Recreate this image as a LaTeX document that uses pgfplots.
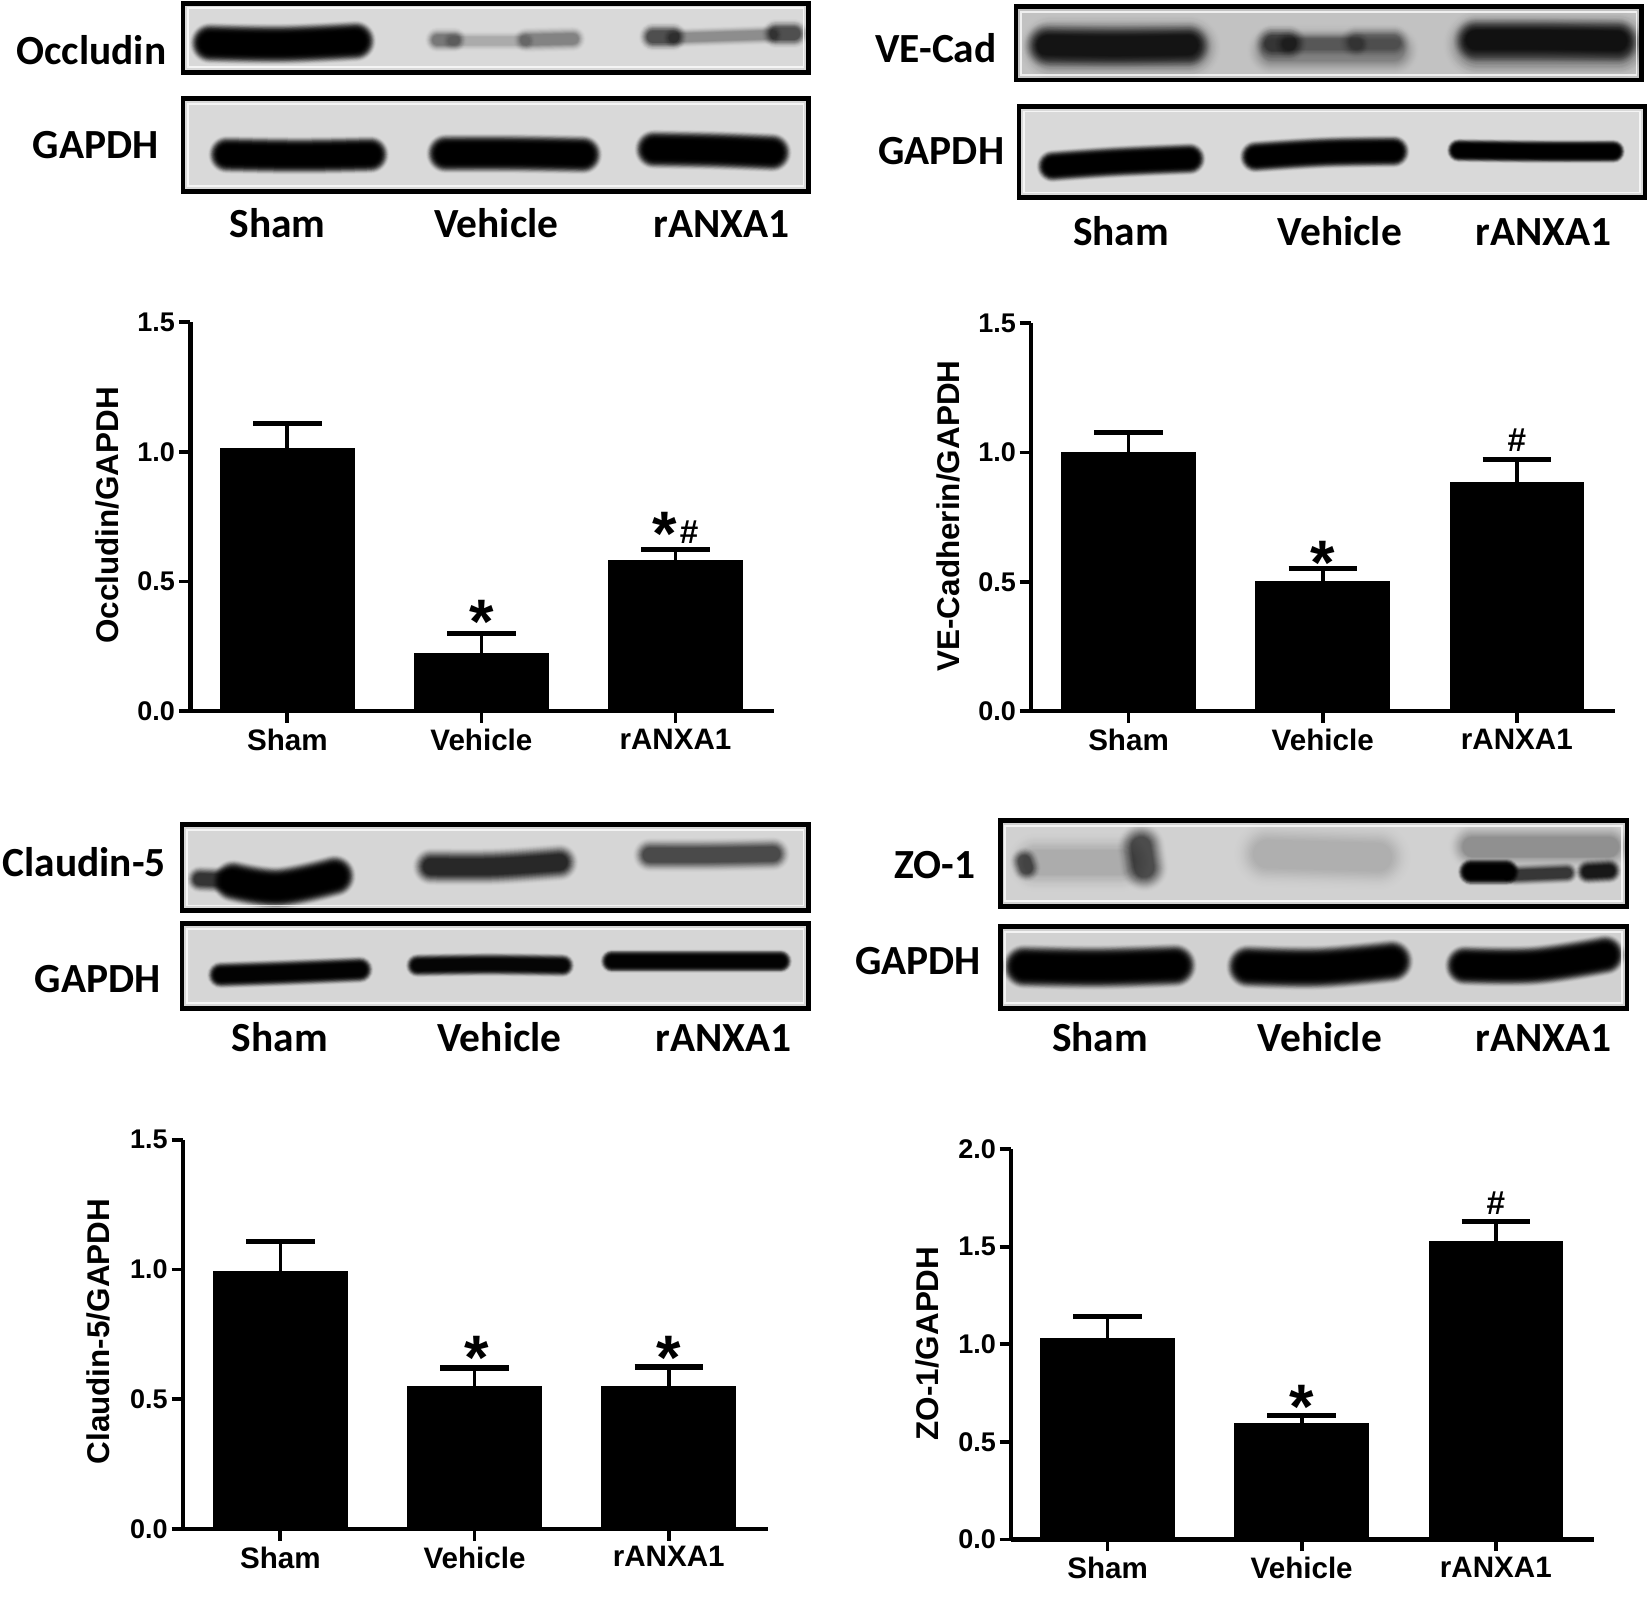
\documentclass[border=0pt]{standalone}
\usepackage{fontspec}
\setmainfont{Liberation Sans}
\newfontfamily\blotfont{Carlito}
\usepackage{pgfplots}
\pgfplotsset{compat=1.18}
\definecolor{bgA}{gray}{0.85}
\definecolor{bgB}{gray}{0.76}
\definecolor{bgC}{gray}{0.84}
\definecolor{bgD}{gray}{0.82}
% #1 x1, #2 y1, #3 x2, #4 y2, #5 background
\newcommand{\blot}[5]{%
  \fill[#5] (#1,#2) rectangle (#3,#4);
}
\newcommand{\blotframe}[4]{%
  \draw[white,opacity=0.75,line width=0.018cm] (#1+5,#2+5) rectangle (#3-5,#4-5);
  \draw[black,line width=0.045cm] (#1,#2) rectangle (#3,#4);
}
% #1 thickness, #2 darkness, #3 points
\newcommand{\band}[3]{%
  \pgfmathsetmacro{\cval}{-ln(1-#2)/136}%
  \foreach \k in {1,...,16}{%
    \pgfmathsetmacro{\aval}{min(0.9,\cval*\k)}%
    \pgfmathsetmacro{\wval}{#1*(1.65-0.065*(\k-1))*0.01}%
    \draw[black,opacity=\aval,line width=\wval cm,line cap=round,line join=round]
      plot[smooth,tension=0.6] coordinates {#3};
  }%
}
\newcommand{\blab}[3]{\node[anchor=base,inner sep=0pt,font=\blotfont\bfseries\fontsize{11.2}{13}\selectfont] at (#1,#2) {#3};}
\pgfplotsset{
  bars/.style={
    scale only axis,
    anchor=south west,
    axis lines=left,
    axis line style={-,line width=0.04cm,black},
    every tick/.style={line width=0.036cm,black},
    tick align=outside,
    major tick length=0.11cm,
    ymin=0,
    xtick={1,2,3},
    xticklabels={Sham,Vehicle,rANXA1},
    clip=false,
    ybar,
    bar width=1.265cm,
    /pgf/number format/assume math mode=true,
    /pgf/number format/fixed,
    /pgf/number format/fixed zerofill,
    /pgf/number format/precision=1,
    yticklabel style={font=\bfseries\fontsize{7.3}{8}\selectfont,inner sep=0pt,xshift=-0.03cm},
    xticklabel style={font=\bfseries\fontsize{8}{9}\selectfont,inner sep=0pt,yshift=-0.05cm},
    every axis y label/.style={rotate=90,anchor=center,font=\bfseries\fontsize{8.5}{10}\selectfont},
  },
  barplot/.style={
    fill=black,draw=black,
    error bars/y dir=plus,
    error bars/y explicit,
    error bars/error bar style={line width=0.035cm,black},
    error bars/error mark options={rotate=90,mark size=0.325cm,line width=0.05cm,black},
  },
}
\newcommand{\stara}[2]{\node[inner sep=0pt,anchor=base,yshift=-7.9pt,font=\bfseries\fontsize{17}{18}\selectfont] at (axis cs:#1,#2) {*};}
\newcommand{\hasha}[2]{\node[inner sep=0pt,anchor=base,yshift=-3.2pt,font=\bfseries\fontsize{9}{10}\selectfont] at (axis cs:#1,#2) {\#};}
\begin{document}
\begin{tikzpicture}
\useasboundingbox (0,0) rectangle (15.68,15.2);
\begin{scope}[x=0.01cm,y=-0.01cm,shift={(0,15.2cm)}]
\begin{scope}
\path[clip] (174,3) rectangle (769,69);
\blot{174}{3}{769}{69}{bgA}
\band{24}{0.99}{(200,41) (270,42) (338,39)}
\band{15}{0.42}{(416,38) (432,38)}
\band{12}{0.18}{(430,39) (500,39)}
\band{15}{0.36}{(500,38) (545,37)}
\band{17}{0.6}{(621,35) (640,35)}
\band{12}{0.32}{(640,36) (735,33)}
\band{17}{0.6}{(738,32) (755,32)}
\end{scope}
\blotframe{174}{3}{769}{69}
\begin{scope}
\path[clip] (174,94) rectangle (769,182);
\blot{174}{94}{769}{182}{bgA}
\band{22}{0.99}{(216,147) (285,148) (352,147)}
\band{23}{0.99}{(424,146) (490,146) (554,147)}
\band{23}{0.99}{(622,142) (680,143) (734,145)}
\end{scope}
\blotframe{174}{94}{769}{182}
\begin{scope}
\path[clip] (966,6) rectangle (1561,76);
\blot{966}{6}{1561}{76}{bgB}
\band{38}{0.45}{(1000,45) (1130,45)}
\band{27}{0.75}{(995,43) (1060,44) (1130,43)}
\band{30}{0.3}{(1210,48) (1325,48)}
\band{22}{0.55}{(1210,41) (1225,41)}
\band{16}{0.28}{(1225,42) (1290,42)}
\band{20}{0.35}{(1290,40) (1325,40)}
\band{40}{0.45}{(1405,42) (1538,42)}
\band{27}{0.78}{(1403,38) (1470,38) (1538,39)}
\end{scope}
\blotframe{966}{6}{1561}{76}
\begin{scope}
\path[clip] (969,101) rectangle (1564,188);
\blot{969}{101}{1564}{188}{bgA}
\band{19}{0.99}{(1001,158) (1060,154) (1131,151)}
\band{19}{0.99}{(1194,149) (1260,145) (1325,144)}
\band{14}{0.99}{(1387,143) (1460,144) (1534,144)}
\end{scope}
\blotframe{969}{101}{1564}{188}
\begin{scope}
\path[clip] (173,784) rectangle (769,866);
\blot{173}{784}{769}{866}{bgC}
\band{16}{0.72}{(190,836) (215,837)}
\band{25}{0.99}{(222,838) (265,844) (318,833)}
\band{22}{0.78}{(410,824) (470,824) (532,820)}
\band{20}{0.62}{(618,813) (675,813) (735,812)}
\end{scope}
\blotframe{173}{784}{769}{866}
\begin{scope}
\path[clip] (173,878) rectangle (769,959);
\blot{173}{878}{769}{959}{bgC}
\band{16}{0.97}{(210,927) (270,925) (342,922)}
\band{14}{0.95}{(397,918) (465,917) (535,918)}
\band{14}{0.97}{(582,914) (660,914) (742,914)}
\end{scope}
\blotframe{173}{878}{769}{959}
\begin{scope}
\path[clip] (951,780) rectangle (1547,862);
\blot{951}{780}{1547}{862}{bgD}
\band{17}{0.55}{(974,819) (976,825)}
\band{28}{0.6}{(1085,805) (1088,825)}
\band{35}{0.15}{(985,820) (1065,820)}
\band{40}{0.14}{(1205,812) (1310,815)}
\band{28}{0.28}{(1400,805) (1530,805)}
\band{16}{0.99}{(1399,829) (1432,829)}
\band{13}{0.7}{(1440,832) (1490,830)}
\band{15}{0.85}{(1510,829) (1530,828)}
\end{scope}
\blotframe{951}{780}{1547}{862}
\begin{scope}
\path[clip] (951,881) rectangle (1547,959);
\blot{951}{881}{1547}{959}{bgD}
\band{26}{0.99}{(974,919) (1045,920) (1117,918)}
\band{26}{0.99}{(1187,919) (1255,920) (1323,914)}
\band{24}{0.99}{(1393,918) (1460,918) (1526,908)}
\end{scope}
\blotframe{951}{881}{1547}{959}
% Labels
\blab{87}{61}{Occludin}
\blab{91}{151}{GAPDH}
\blab{264}{226}{Sham}
\blab{472}{226}{Vehicle}
\blab{686}{226}{rANXA1}
\blab{890}{59}{VE-Cad}
\blab{895}{156}{GAPDH}
\blab{1066}{233}{Sham}
\blab{1274}{233}{Vehicle}
\blab{1468}{233}{rANXA1}
\blab{80}{833}{Claudin-5}
\blab{93}{944}{GAPDH}
\blab{266}{1000}{Sham}
\blab{475}{1000}{Vehicle}
\blab{688}{1000}{rANXA1}
\blab{889}{835}{ZO-1}
\blab{873}{927}{GAPDH}
\blab{1046}{1000}{Sham}
\blab{1255}{1000}{Vehicle}
\blab{1468}{1000}{rANXA1}
\end{scope}
% Chart 1
\begin{axis}[bars,at={(1.81cm,8.44cm)},width=5.55cm,height=3.70cm,xmin=0.501,xmax=3.51,ymax=1.5,ytick={0,0.5,1,1.5},
  ylabel={Occludin/GAPDH},y label style={at={(axis description cs:-0.142,0.503)}}]
\addplot[barplot] coordinates {(1,1.012) +- (0,0.096) (2,0.222) +- (0,0.077) (3,0.579) +- (0,0.044)};
\stara{2}{0.373}
\stara{2.946}{0.713}
\hasha{3.07}{0.693}
\end{axis}
% Chart 2
\begin{axis}[bars,at={(9.80cm,8.44cm)},width=5.55cm,height=3.69cm,xmin=0.499,xmax=3.507,ymax=1.5,ytick={0,0.5,1,1.5},
  ylabel={VE-Cadherin/GAPDH},y label style={at={(axis description cs:-0.141,0.503)}}]
\addplot[barplot] coordinates {(1,1.0) +- (0,0.077) (2,0.5) +- (0,0.053) (3,0.882) +- (0,0.09)};
\stara{2}{0.604}
\hasha{3}{1.05}
\end{axis}
% Chart 3
\begin{axis}[bars,at={(1.74cm,0.67cm)},width=5.56cm,height=3.70cm,xmin=0.499,xmax=3.512,ymax=1.5,ytick={0,0.5,1,1.5},
  ylabel={Claudin-5/GAPDH},y label style={at={(axis description cs:-0.144,0.507)}}]
\addplot[barplot] coordinates {(1,0.993) +- (0,0.114) (2,0.547) +- (0,0.073) (3,0.547) +- (0,0.077)};
\stara{2.01}{0.69}
\stara{3}{0.69}
\end{axis}
% Chart 4
\begin{axis}[bars,at={(9.61cm,0.57cm)},width=5.54cm,height=3.71cm,xmin=0.504,xmax=3.507,ymax=2,ytick={0,0.5,1,1.5,2},
  ylabel={ZO-1/GAPDH},y label style={at={(axis description cs:-0.143,0.502)}}]
\addplot[barplot] coordinates {(1,1.03) +- (0,0.113) (2,0.593) +- (0,0.043) (3,1.526) +- (0,0.102)};
\stara{2}{0.717}
\hasha{3}{1.725}
\end{axis}
\end{tikzpicture}
\end{document}
